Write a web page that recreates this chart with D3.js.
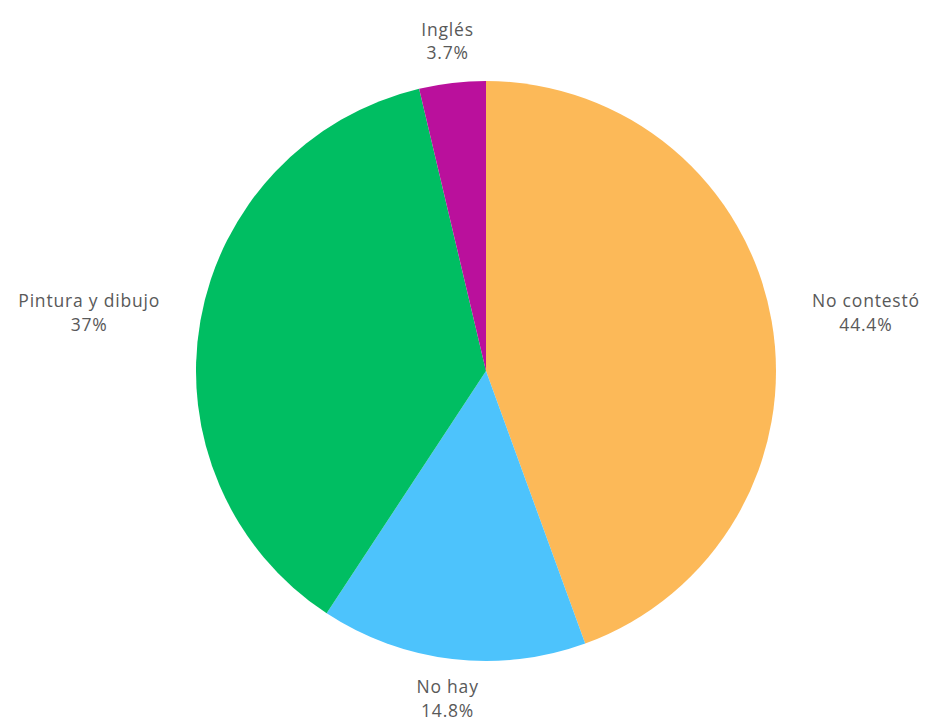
<!DOCTYPE html>
<html>
<head>
<meta charset="utf-8">
<script src="https://cdn.jsdelivr.net/npm/d3@7"></script>
<style>
  html, body { margin: 0; padding: 0; background: #ffffff; }
  svg { display: block; }
</style>
</head>
<body>
<svg id="chart" width="932" height="719"></svg>
<script>
// Categories and their shares (percent), clockwise from 12 o'clock
const categories = ["No contestó", "No hay", "Pintura y dibujo", "Inglés"];
const values = [44.4, 14.8, 37, 3.7];
const valueLabels = ["44.4%", "14.8%", "37%", "3.7%"];
const colors = ["#FCB958", "#4DC3FC", "#00BE62", "#BA109C"];

const width = 932, height = 719;
const cx = 486, cy = 371;
const radius = 290;
const labelRadius = 331;
const lineHeight = 23.5;
const fontFamily = "'Open Sans', 'Noto Sans', sans-serif";
const fontSize = 17.5;
const letterSpacing = 0.8;

const svg = d3.select("#chart");
const g = svg.append("g").attr("transform", `translate(${cx},${cy})`);

const data = categories.map((c, i) => ({ category: c, value: values[i], label: valueLabels[i], color: colors[i] }));

const pie = d3.pie().value(d => d.value).sort(null);
const arcs = pie(data);

const arc = d3.arc().innerRadius(0).outerRadius(radius);
const labelArc = d3.arc().innerRadius(labelRadius).outerRadius(labelRadius);

g.selectAll("path.slice")
  .data(arcs)
  .join("path")
  .attr("class", "slice")
  .attr("d", arc)
  .attr("fill", d => d.data.color);

function styleText(sel) {
  return sel
    .attr("font-family", fontFamily)
    .attr("font-size", fontSize)
    .attr("letter-spacing", letterSpacing);
}

function measure(a, b) {
  const tmp = styleText(svg.append("text"));
  tmp.text(a);
  const w1 = tmp.node().getBBox().width;
  tmp.text(b);
  const w2 = tmp.node().getBBox().width;
  tmp.remove();
  return Math.max(w1, w2);
}

// Data labels: category on the first line, percentage below
g.selectAll("text.label")
  .data(arcs)
  .join("text")
  .attr("class", "label")
  .call(styleText)
  .attr("fill", "#595959")
  .attr("text-anchor", "middle")
  .each(function(d) {
    const [x, y] = labelArc.centroid(d);
    const mid = (d.startAngle + d.endAngle) / 2;
    const s = Math.sin(mid);
    const t = d3.select(this);
    // Side labels hang away from the pie; top/bottom labels are centred on their point
    let ax = x;
    if (Math.abs(s) > 0.5) {
      const w = measure(d.data.category, d.data.label);
      ax = s > 0 ? x + w / 2 : x - w / 2;
    }
    t.append("tspan").attr("x", ax).attr("y", y - lineHeight / 2).attr("dy", "0.3em").text(d.data.category);
    t.append("tspan").attr("x", ax).attr("y", y + lineHeight / 2).attr("dy", "0.3em").text(d.data.label);
  });
</script>
</body>
</html>
